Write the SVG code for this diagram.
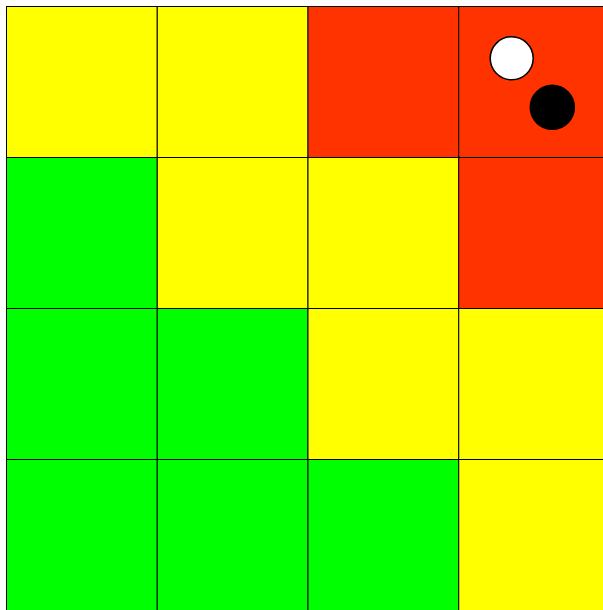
<svg xmlns="http://www.w3.org/2000/svg" width="603" height="610" viewBox="0 0 603 610">
<style>
.c{stroke:#000;stroke-width:1}
.y{fill:#ffff00}.g{fill:#00ff00}.r{fill:#ff3300}
.p{stroke:#000;stroke-width:1.5}
</style>
<rect width="603" height="610" fill="#fff"/>
<g id="grid">
<rect class="c y" x="6.5" y="6.5" width="150.75" height="151"/>
<rect class="c y" x="157.25" y="6.5" width="150.75" height="151"/>
<rect class="c r" x="308" y="6.5" width="150.75" height="151"/>
<rect class="c r" x="458.75" y="6.5" width="150.75" height="151"/>
<rect class="c g" x="6.5" y="157.5" width="150.75" height="151"/>
<rect class="c y" x="157.25" y="157.5" width="150.75" height="151"/>
<rect class="c y" x="308" y="157.5" width="150.75" height="151"/>
<rect class="c r" x="458.75" y="157.5" width="150.75" height="151"/>
<rect class="c g" x="6.5" y="308.5" width="150.75" height="151"/>
<rect class="c g" x="157.25" y="308.5" width="150.75" height="151"/>
<rect class="c y" x="308" y="308.5" width="150.75" height="151"/>
<rect class="c y" x="458.75" y="308.5" width="150.75" height="151"/>
<rect class="c g" x="6.5" y="459.5" width="150.75" height="151"/>
<rect class="c g" x="157.25" y="459.5" width="150.75" height="151"/>
<rect class="c g" x="308" y="459.5" width="150.75" height="151"/>
<rect class="c y" x="458.75" y="459.5" width="150.75" height="151"/>
</g>
<g id="white-piece"><circle class="p" cx="511.7" cy="58.3" r="21.5" fill="#fff"/></g>
<g id="black-piece"><circle class="p" cx="552.3" cy="107.3" r="22" fill="#000"/></g>
</svg>
